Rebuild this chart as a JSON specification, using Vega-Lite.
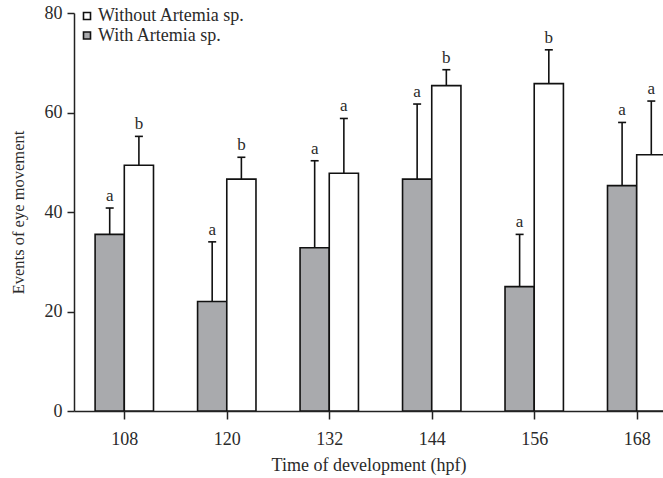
{
  "$schema": "https://vega.github.io/schema/vega-lite/v6.json",
  "width": 589,
  "height": 398,
  "autosize": {"type": "none"},
  "padding": {"left": 74, "top": 13, "right": 0, "bottom": 67},
  "background": "white",
  "config": {
    "font": "Liberation Serif",
    "view": {"stroke": null},
    "axis": {"labelFont": "Liberation Serif", "titleFont": "Liberation Serif", "labelFontSize": 18, "titleFontSize": 18, "titleFontWeight": "normal", "labelColor": "#2a2a2a", "titleColor": "#2a2a2a", "domainColor": "#222", "tickColor": "#222", "grid": false, "domainWidth": 1.5, "tickWidth": 1.5},
    "legend": {"labelFont": "Liberation Serif", "labelFontSize": 18, "labelColor": "#2a2a2a", "padding": 0}
  },
  "data": {"values": [
    {"hpf": 108, "group": "With Artemia sp.", "mean": 35.5, "upper": 40.8, "letter": "a"},
    {"hpf": 108, "group": "Without Artemia sp.", "mean": 49.4, "upper": 55.2, "letter": "b"},
    {"hpf": 120, "group": "With Artemia sp.", "mean": 22.0, "upper": 34.0, "letter": "a"},
    {"hpf": 120, "group": "Without Artemia sp.", "mean": 46.6, "upper": 51.0, "letter": "b"},
    {"hpf": 132, "group": "With Artemia sp.", "mean": 32.8, "upper": 50.3, "letter": "a"},
    {"hpf": 132, "group": "Without Artemia sp.", "mean": 47.8, "upper": 58.8, "letter": "a"},
    {"hpf": 144, "group": "With Artemia sp.", "mean": 46.6, "upper": 61.7, "letter": "a"},
    {"hpf": 144, "group": "Without Artemia sp.", "mean": 65.4, "upper": 68.6, "letter": "b"},
    {"hpf": 156, "group": "With Artemia sp.", "mean": 25.0, "upper": 35.5, "letter": "a"},
    {"hpf": 156, "group": "Without Artemia sp.", "mean": 65.8, "upper": 72.6, "letter": "b"},
    {"hpf": 168, "group": "With Artemia sp.", "mean": 45.3, "upper": 58.0, "letter": "a"},
    {"hpf": 168, "group": "Without Artemia sp.", "mean": 51.5, "upper": 62.3, "letter": "a"}
  ]},
  "encoding": {
    "x": {"field": "hpf", "type": "quantitative", "scale": {"domain": [102.11, 171.08], "nice": false, "zero": false, "padding": 0},
      "axis": {"values": [108, 120, 132, 144, 156, 168], "title": "Time of development (hpf)", "tickSize": 8, "labelPadding": 11, "titlePadding": 8}},
    "y": {"field": "mean", "type": "quantitative", "scale": {"domain": [0, 80], "nice": false, "padding": 0},
      "axis": {"values": [0, 20, 40, 60, 80], "title": "Events of eye movement", "titleFontSize": 16.5, "tickSize": 7, "labelPadding": 5, "titlePadding": 18}}
  },
  "layer": [
    {"transform": [{"filter": "datum.group === 'With Artemia sp.'"}],
     "mark": {"type": "bar", "width": 29.2, "xOffset": -14.6, "stroke": "#111", "strokeWidth": 1.6, "clip": true},
     "encoding": {"color": {"field": "group", "type": "nominal",
       "scale": {"domain": ["Without Artemia sp.", "With Artemia sp."], "range": ["#ffffff", "#a9aaad"]},
       "legend": {"title": null, "orient": "none", "legendX": 4, "legendY": -6, "symbolType": "square", "symbolSize": 49, "symbolStrokeColor": "#111", "symbolStrokeWidth": 1.6, "rowPadding": 1.5, "labelOffset": 2}}}},
    {"transform": [{"filter": "datum.group === 'Without Artemia sp.'"}],
     "mark": {"type": "bar", "width": 29.2, "xOffset": 14.6, "stroke": "#111", "strokeWidth": 1.6, "clip": true},
     "encoding": {"color": {"field": "group", "type": "nominal"}}},
    {"transform": [{"filter": "datum.group === 'With Artemia sp.'"}],
     "mark": {"type": "rule", "xOffset": -14.6, "stroke": "#111", "strokeWidth": 1.6},
     "encoding": {"y2": {"field": "upper"}}},
    {"transform": [{"filter": "datum.group === 'Without Artemia sp.'"}],
     "mark": {"type": "rule", "xOffset": 14.6, "stroke": "#111", "strokeWidth": 1.6},
     "encoding": {"y2": {"field": "upper"}}},
    {"transform": [{"filter": "datum.group === 'With Artemia sp.'"}],
     "mark": {"type": "tick", "orient": "horizontal", "xOffset": -14.6, "size": 8, "thickness": 1.6, "color": "#111", "opacity": 1},
     "encoding": {"y": {"field": "upper", "type": "quantitative"}}},
    {"transform": [{"filter": "datum.group === 'Without Artemia sp.'"}],
     "mark": {"type": "tick", "orient": "horizontal", "xOffset": 14.6, "size": 8, "thickness": 1.6, "color": "#111", "opacity": 1},
     "encoding": {"y": {"field": "upper", "type": "quantitative"}}},
    {"transform": [{"filter": "datum.group === 'With Artemia sp.'"}],
     "mark": {"type": "text", "xOffset": -14.6, "dy": -7, "baseline": "alphabetic", "fontSize": 17, "font": "Liberation Serif", "color": "#2a2a2a"},
     "encoding": {"y": {"field": "upper", "type": "quantitative"}, "text": {"field": "letter"}}},
    {"transform": [{"filter": "datum.group === 'Without Artemia sp.'"}],
     "mark": {"type": "text", "xOffset": 14.6, "dy": -7, "baseline": "alphabetic", "fontSize": 17, "font": "Liberation Serif", "color": "#2a2a2a"},
     "encoding": {"y": {"field": "upper", "type": "quantitative"}, "text": {"field": "letter"}}}
  ]
}
